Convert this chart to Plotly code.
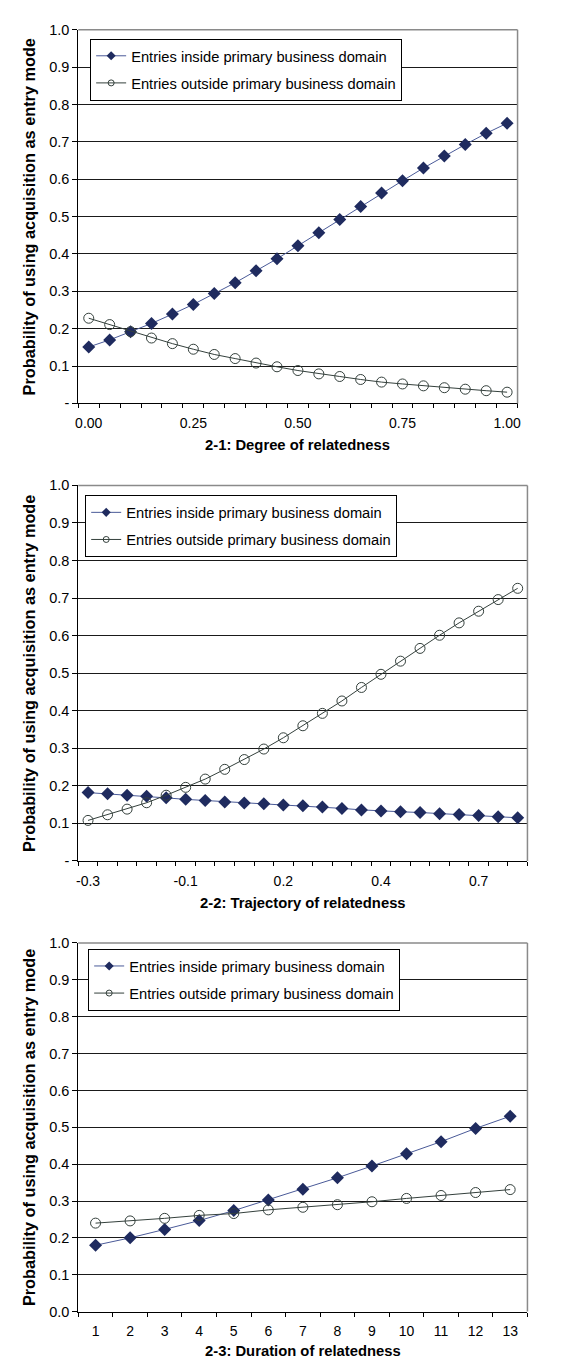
import plotly.graph_objects as go

W, H = 564, 1362

# ---------------- data ----------------
SERIES_IN = "Entries inside primary business domain"
SERIES_OUT = "Entries outside primary business domain"

# Panel 2-1: degree of relatedness (categories 0.00 .. 1.00 step 0.05)
DEG_X = ["0.00", "0.05", "0.10", "0.15", "0.20", "0.25", "0.30", "0.35", "0.40", "0.45",
         "0.50", "0.55", "0.60", "0.65", "0.70", "0.75", "0.80", "0.85", "0.90", "0.95", "1.00"]
DEG_IN = [0.151, 0.170, 0.192, 0.214, 0.239, 0.265, 0.294, 0.323, 0.355, 0.387,
          0.422, 0.457, 0.492, 0.527, 0.563, 0.596, 0.630, 0.662, 0.693, 0.723, 0.750]
DEG_OUT = [0.228, 0.211, 0.192, 0.175, 0.160, 0.145, 0.131, 0.120, 0.108, 0.098,
           0.088, 0.079, 0.072, 0.064, 0.057, 0.052, 0.047, 0.042, 0.038, 0.034, 0.030]
DEG_TICKS = ["0.00", "0.25", "0.50", "0.75", "1.00"]

# Panel 2-2: trajectory of relatedness (23 categories, labelled every 5th)
TRAJ_N = 23
TRAJ_TICKS = ["-0.3", "-0.1", "0.2", "0.4", "0.7"]
TRAJ_IN = [0.182, 0.179, 0.175, 0.172, 0.168, 0.164, 0.161, 0.157, 0.154, 0.152, 0.149, 0.147,
           0.144, 0.140, 0.136, 0.133, 0.131, 0.129, 0.126, 0.124, 0.121, 0.118, 0.115]
TRAJ_OUT = [0.108, 0.123, 0.138, 0.155, 0.175, 0.196, 0.218, 0.244, 0.270, 0.298, 0.328, 0.360,
            0.393, 0.426, 0.462, 0.497, 0.532, 0.566, 0.601, 0.634, 0.665, 0.696, 0.726]

# Panel 2-3: duration of relatedness
DUR_X = [1, 2, 3, 4, 5, 6, 7, 8, 9, 10, 11, 12, 13]
DUR_IN = [0.180, 0.200, 0.223, 0.247, 0.274, 0.303, 0.332, 0.363, 0.395, 0.428, 0.461, 0.497, 0.530]
DUR_OUT = [0.240, 0.246, 0.253, 0.261, 0.266, 0.276, 0.283, 0.290, 0.298, 0.307, 0.315, 0.323, 0.331]

Y_TICKVALS = [0.0, 0.1, 0.2, 0.3, 0.4, 0.5, 0.6, 0.7, 0.8, 0.9, 1.0]
Y_TICKTEXT_DASH = ["-", "0.1", "0.2", "0.3", "0.4", "0.5", "0.6", "0.7", "0.8", "0.9", "1.0"]
Y_TICKTEXT_ZERO = ["0.0", "0.1", "0.2", "0.3", "0.4", "0.5", "0.6", "0.7", "0.8", "0.9", "1.0"]

X_TITLES = ["2-1: Degree of relatedness", "2-2: Trajectory of relatedness", "2-3: Duration of relatedness"]
Y_TITLE = "Probability of using acquisition as entry mode"

# ---------------- style ----------------
FONT = "Liberation Sans, Arial, sans-serif"
NAVY = "#1f2b5f"
NAVY_LINE = "#4a5a98"
DARK = "#34403c"

# panel pixel boxes (left, right, top, bottom)
PANELS = [
    (68, 512, 14, 392),
    (68, 522, 475, 855),
    (68, 522, 938, 1311),
]
XTITLE_SHIFT = [-42, -42, -39]
LEGEND_POS = [(80, 23), (75, 485), (78, 944)]


def px_x(v):
    return v / W


def px_y(v):
    return 1 - v / H


fig = go.Figure()

panel_data = [
    (list(range(len(DEG_X))), DEG_IN, DEG_OUT),
    (list(range(TRAJ_N)), TRAJ_IN, TRAJ_OUT),
    (DUR_X, DUR_IN, DUR_OUT),
]

for i, (xs, yin, yout) in enumerate(panel_data):
    sfx = "" if i == 0 else str(i + 1)
    lg = "legend" if i == 0 else "legend" + str(i + 1)
    fig.add_trace(go.Scatter(
        x=xs, y=yin, mode="lines+markers", name=SERIES_IN, showlegend=False,
        xaxis="x" + sfx, yaxis="y" + sfx,
        line=dict(color=NAVY_LINE, width=1),
        marker=dict(symbol="diamond", size=10, color=NAVY, line=dict(width=0)),
    ))
    fig.add_trace(go.Scatter(
        x=xs, y=yout, mode="lines+markers", name=SERIES_OUT, showlegend=False,
        xaxis="x" + sfx, yaxis="y" + sfx,
        line=dict(color=DARK, width=1),
        marker=dict(symbol="circle-open", size=10, color=DARK, line=dict(width=1)),
    ))
    # legend entries (smaller legend symbols, as in the original)
    fig.add_trace(go.Scatter(
        x=[None], y=[None], mode="lines+markers", name=SERIES_IN,
        xaxis="x" + sfx, yaxis="y" + sfx, legend=lg, legendgroup="in" + sfx,
        line=dict(color=NAVY_LINE, width=1),
        marker=dict(symbol="diamond", size=7, color=NAVY, line=dict(width=0)),
    ))
    fig.add_trace(go.Scatter(
        x=[None], y=[None], mode="lines+markers", name=SERIES_OUT,
        xaxis="x" + sfx, yaxis="y" + sfx, legend=lg, legendgroup="out" + sfx,
        line=dict(color=DARK, width=1),
        marker=dict(symbol="circle-open", size=6, color=DARK, line=dict(width=1)),
    ))

layout = dict(
    width=W, height=H,
    margin=dict(l=0, r=0, t=0, b=0),
    paper_bgcolor="white", plot_bgcolor="white",
    font=dict(family=FONT, size=14, color="black"),
    showlegend=True,
)

xtick_cfg = [
    (list(range(0, len(DEG_X), 5)), DEG_TICKS, [-0.5, len(DEG_X) - 0.5], -0.5),
    (list(range(0, TRAJ_N, 5)), TRAJ_TICKS, [-0.5, TRAJ_N - 0.5], -0.5),
    (DUR_X, [str(v) for v in DUR_X], [DUR_X[0] - 0.5, DUR_X[-1] + 0.5], DUR_X[0] - 0.5),
]

annotations = []
shapes = []
for i, (l, r, t, b) in enumerate(PANELS):
    sfx = "" if i == 0 else str(i + 1)
    tv, tt, rng, t0 = xtick_cfg[i]
    layout["xaxis" + sfx] = dict(
        domain=[px_x(l), px_x(r)], anchor="y" + sfx,
        range=rng, tickmode="array", tickvals=tv, ticktext=tt,
        ticks="", ticklabelstandoff=7,
        showgrid=False, zeroline=False,
        showline=True, linecolor="black", linewidth=1,
        minor=dict(ticks="outside", ticklen=4, tickcolor="black", tick0=t0, dtick=1, showgrid=False),
        tickfont=dict(size=14, family=FONT, color="black"),
        fixedrange=True,
    )
    layout["yaxis" + sfx] = dict(
        domain=[px_y(b), px_y(t)], anchor="x" + sfx,
        range=[0, 1], tickmode="array", tickvals=Y_TICKVALS,
        ticktext=Y_TICKTEXT_ZERO if i == 2 else Y_TICKTEXT_DASH,
        ticks="outside", ticklen=5, tickcolor="black",
        showgrid=True, gridcolor="#1a1a1a", gridwidth=1,
        zeroline=False, showline=True, linecolor="black", linewidth=1,
        tickfont=dict(size=14.5, family=FONT, color="black"),
        fixedrange=True,
    )
    lx, ly = LEGEND_POS[i]
    layout["legend" if i == 0 else "legend" + str(i + 1)] = dict(
        x=px_x(lx), y=px_y(ly), xanchor="left", yanchor="top",
        xref="paper", yref="paper",
        bgcolor="white", bordercolor="black", borderwidth=1,
        font=dict(size=14.7, family=FONT, color="black"),
        traceorder="grouped", tracegroupgap=5, itemwidth=30,
    )
    # x-axis title
    annotations.append(dict(
        text="<b>" + X_TITLES[i] + "</b>", xref="x" + sfx + " domain", yref="y" + sfx + " domain",
        x=0.5, y=0, xanchor="center", yanchor="middle", yshift=XTITLE_SHIFT[i], showarrow=False,
        font=dict(size=14.8, family=FONT, color="black"),
    ))
    # y-axis title
    annotations.append(dict(
        text="<b>" + Y_TITLE + "</b>", xref="paper", yref="y" + sfx + " domain",
        x=px_x(18), y=0.5, xanchor="center", yanchor="middle", textangle=-90, showarrow=False,
        font=dict(size=16.3, family=FONT, color="black"),
    ))
    # gray plot-area border (top and right)
    shapes.append(dict(type="line", xref="x" + sfx + " domain", yref="y" + sfx + " domain",
                       x0=0, x1=1, y0=1, y1=1, line=dict(color="#8a8a8a", width=1.5), layer="above"))
    shapes.append(dict(type="line", xref="x" + sfx + " domain", yref="y" + sfx + " domain",
                       x0=1, x1=1, y0=0, y1=1, line=dict(color="#8a8a8a", width=1.5), layer="above"))

layout["annotations"] = annotations
layout["shapes"] = shapes
fig.update_layout(**layout)

fig.write_html("out.html")
